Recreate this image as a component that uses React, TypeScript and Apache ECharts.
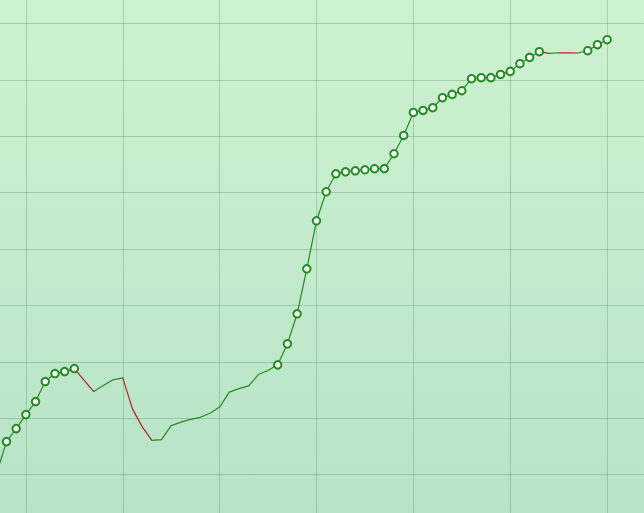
import React, { useEffect, useRef } from "react";
import * as echarts from "echarts";

// index of first value on the x scale
const startIndex = -3;
// series values (one per step)
const values: number[] = [
  0.35, 5.85, 8.16, 10.64, 12.95, 16.5, 17.92, 18.27, 18.8, 16.76,
  14.72, 15.79, 16.8, 17.15, 11.65, 8.51, 6.08, 6.21, 8.69, 9.31,
  9.79, 10.16, 10.87, 11.97, 14.63, 15.25, 15.73, 17.74, 18.45, 19.46,
  23.18, 28.51, 36.49, 45.0, 50.15, 53.34, 53.69, 53.87, 54.05, 54.23,
  54.26, 56.89, 60.13, 64.21, 64.57, 65.05, 66.82, 67.41, 68.06, 70.19,
  70.37, 70.38, 70.95, 71.49, 72.85, 73.97, 74.98, 74.68, 74.8, 74.78,
  74.75, 75.16, 76.22, 77.11,
];

const UP = "#228B22";
const DOWN = "#B22222";

// chart canvas extends beyond the visible frame so that gridlines land where they should
const OFF_LEFT = 71.3;
const OFF_RIGHT = 59.3;
const OFF_TOP = 33.4;
const OFF_BOTTOM = 17.4;

export default function App() {
  const ref = useRef<HTMLDivElement>(null);
  useEffect(() => {
    if (!ref.current) return;
    const chart = echarts.init(ref.current, undefined, { renderer: "svg" });
    // a point is marked when it sets a new high above all earlier points
    let runMax = values[0];
    const data = values.map((v, i) => {
      const isHigh = i > 0 && v > runMax;
      if (isHigh) runMax = v;
      return {
        value: [startIndex + i, v],
        symbol: isHigh ? "emptyCircle" : "none",
      };
    });
    const pieces: any[] = [];
    for (let i = 0; i + 1 < values.length; i++) {
      pieces.push({
        gt: startIndex + i,
        lte: startIndex + i + 1,
        color: values[i + 1] >= values[i] ? UP : DOWN,
      });
    }
    chart.setOption({
      animation: false,
      backgroundColor: "transparent",
      grid: { left: 0, right: 0, top: 0, bottom: 0 },
      xAxis: {
        type: "value",
        min: -10,
        max: 70,
        interval: 10,
        axisLine: { show: false },
        axisTick: { show: false },
        axisLabel: { show: false },
        splitLine: { show: true, lineStyle: { color: "rgba(20,90,40,0.22)", width: 1 } },
      },
      yAxis: {
        type: "value",
        min: -10,
        max: 90,
        interval: 10,
        axisLine: { show: false },
        axisTick: { show: false },
        axisLabel: { show: false },
        splitLine: { show: true, lineStyle: { color: "rgba(20,90,40,0.22)", width: 1 } },
      },
      visualMap: {
        type: "piecewise",
        show: false,
        dimension: 0,
        seriesIndex: 0,
        pieces,
        outOfRange: { color: UP },
      },
      series: [
        {
          type: "line",
          data,
          symbolSize: 7.5,
          lineStyle: { width: 1.2 },
          itemStyle: { borderWidth: 1 },
        },
      ],
    });
    return () => chart.dispose();
  }, []);
  return (
    <div
      style={{
        position: "fixed",
        left: 0,
        top: 0,
        width: 644,
        height: 513,
        overflow: "hidden",
        background: "linear-gradient(to bottom, #cdf2cf, #b8e3c8)",
      }}
    >
      <div
        ref={ref}
        style={{
          position: "absolute",
          left: -OFF_LEFT,
          top: -OFF_TOP,
          width: 644 + OFF_LEFT + OFF_RIGHT,
          height: 513 + OFF_TOP + OFF_BOTTOM,
        }}
      />
    </div>
  );
}
